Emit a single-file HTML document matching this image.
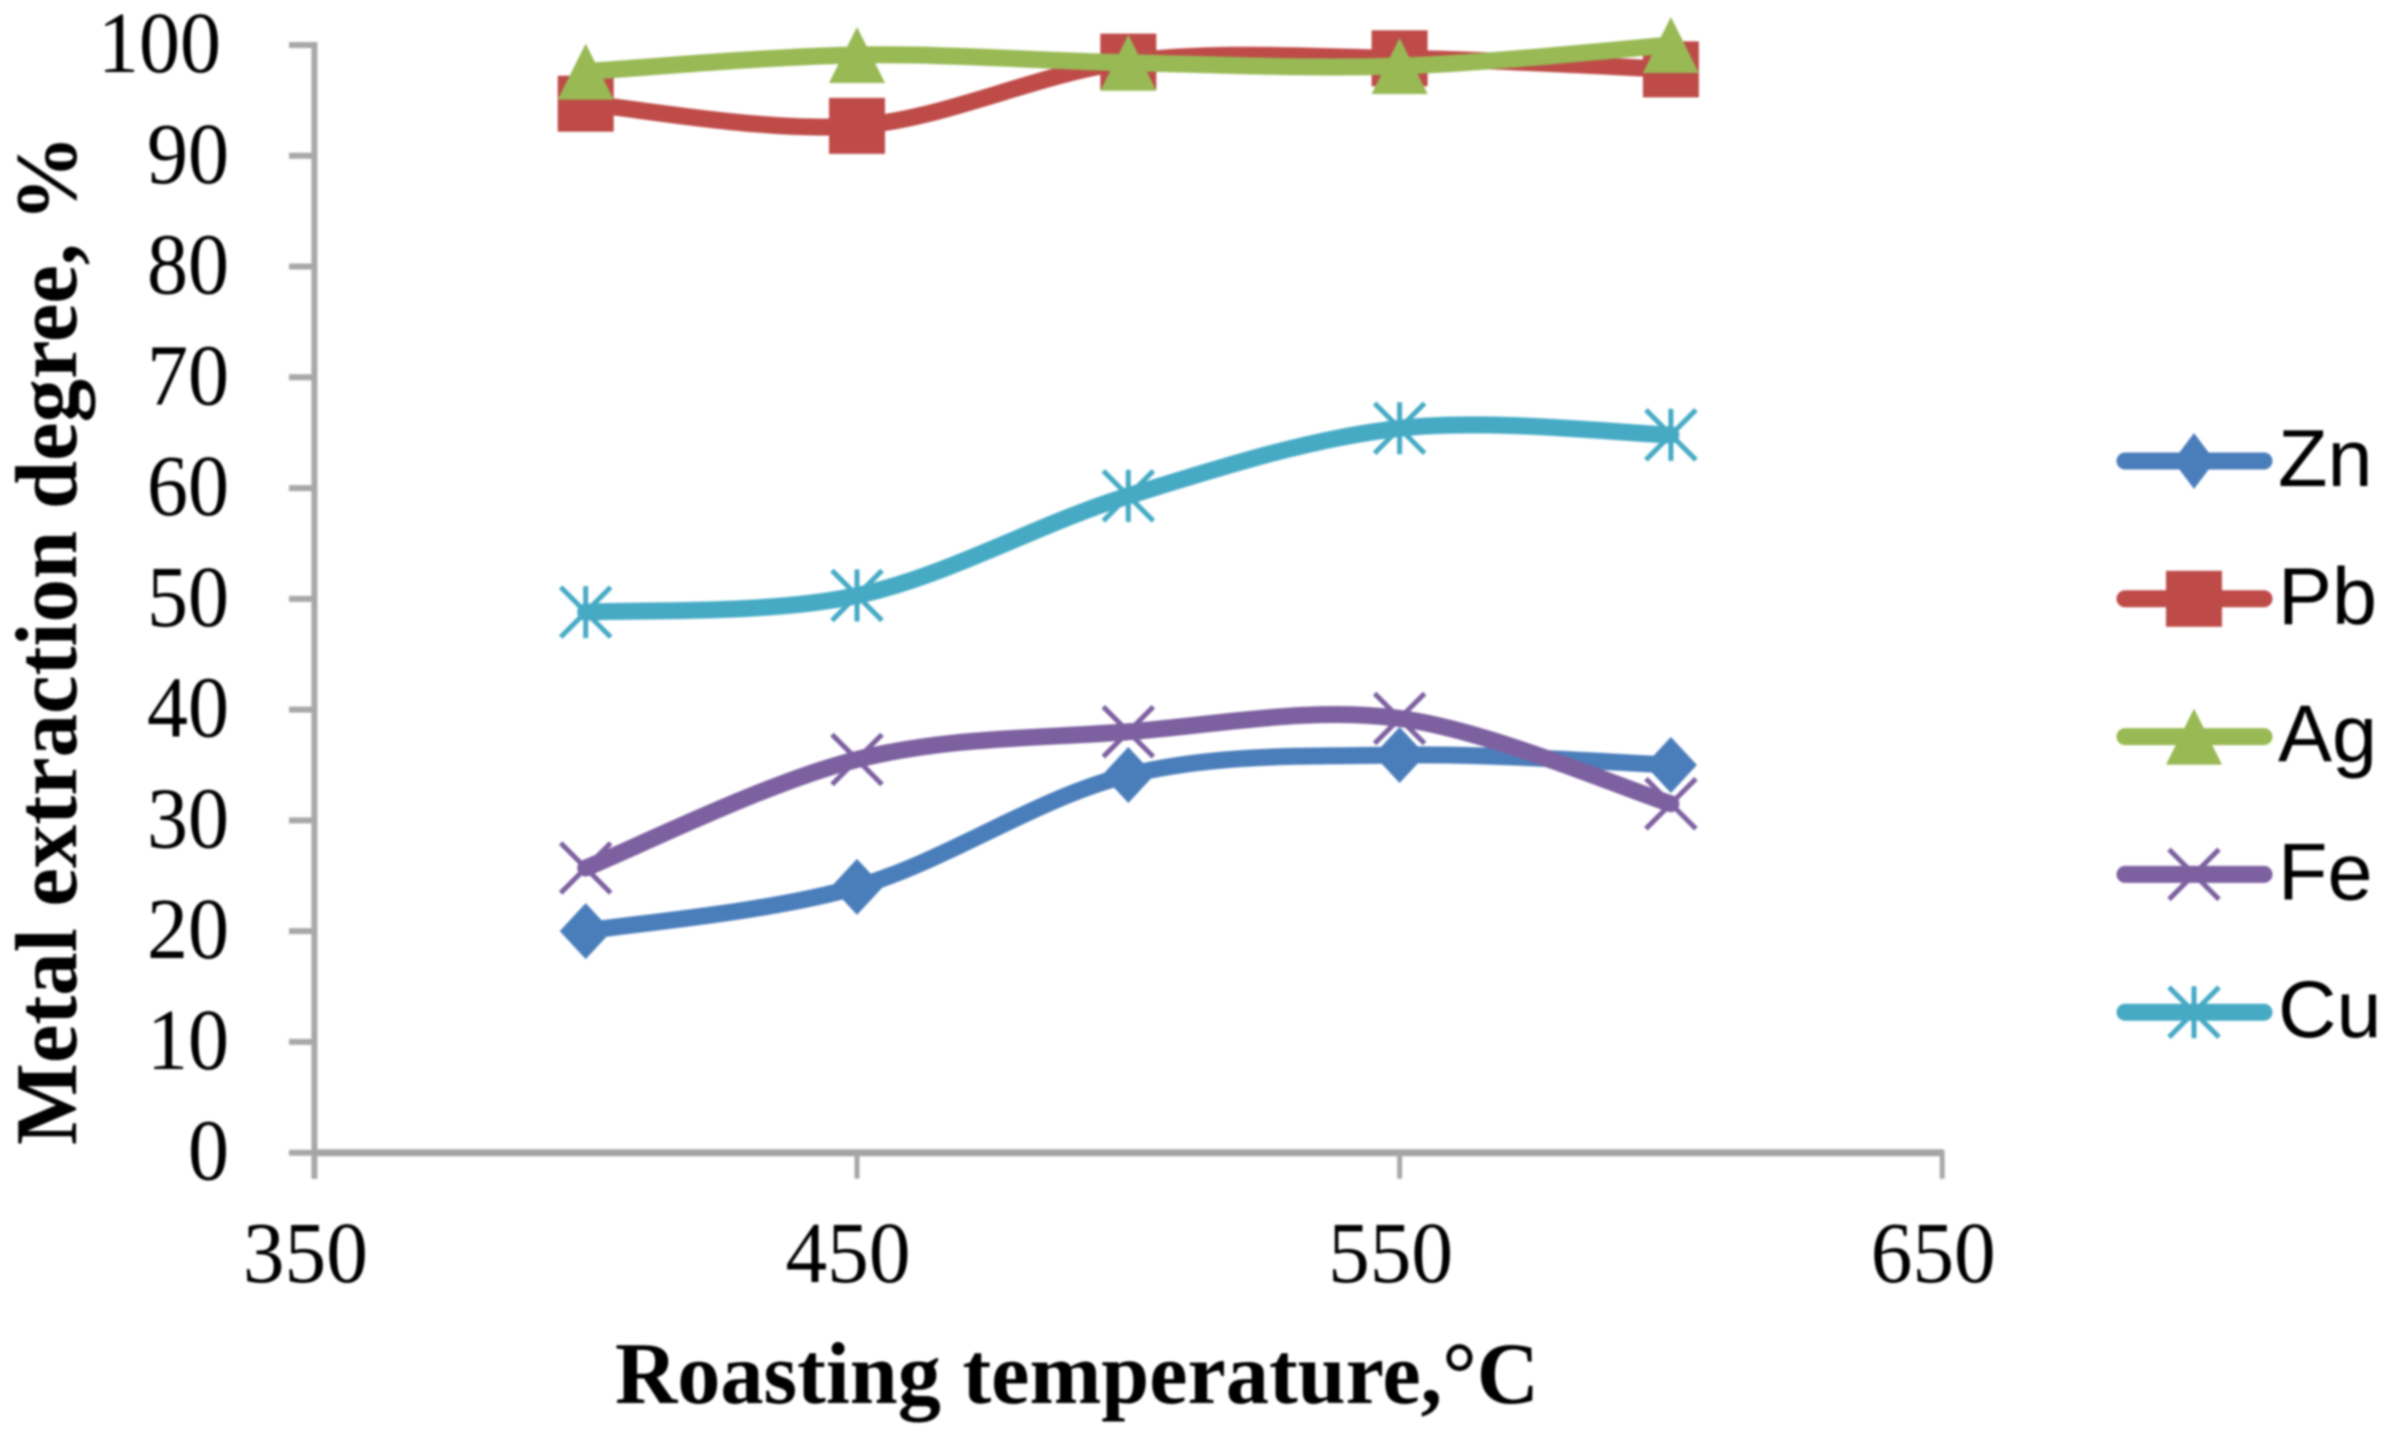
<!DOCTYPE html>
<html lang="en">
<head>
<meta charset="utf-8">
<title>Metal extraction degree vs roasting temperature</title>
<style>
html,body{margin:0;padding:0;background:#fff;width:2395px;height:1440px;overflow:hidden}
svg{display:block;filter:blur(1px)}
text{fill:#000}
.tick{font-family:"Liberation Serif",serif;font-size:87px}
.title{font-family:"Liberation Serif",serif;font-size:88px;font-weight:bold}
.legend{font-family:"Liberation Sans",sans-serif;font-size:81px}
</style>
</head>
<body>
<svg id="chart" xmlns="http://www.w3.org/2000/svg" width="2395" height="1440" viewBox="0 0 2395 1440">
  <text class="title" x="615" y="1403" textLength="924" lengthAdjust="spacingAndGlyphs">Roasting temperature,°C</text>
  <text class="title" transform="translate(76,1145) rotate(-90)" x="0" y="0" textLength="1010" lengthAdjust="spacingAndGlyphs">Metal extraction degree, %</text>
</svg>
<script>
const temperatures = [400, 450, 500, 550, 600];
const znValues = [20, 24, 34.1, 35.9, 35];
const pbValues = [94.7, 92.7, 98.5, 98.8, 97.8];
const agValues = [97.6, 99.1, 98.4, 98.1, 100];
const feValues = [25.7, 35.5, 38, 39.2, 31.5];
const cuValues = [48.8, 50.3, 59.3, 65.4, 64.8];
const xTickValues = [350, 450, 550, 650];
const yTickValues = [0, 10, 20, 30, 40, 50, 60, 70, 80, 90, 100];
const seriesNames = ['Zn', 'Pb', 'Ag', 'Fe', 'Cu'];
const seriesData = [znValues, pbValues, agValues, feValues, cuValues];
const seriesColors = ['#4A7EBB', '#BE4B48', '#98B954', '#7D60A0', '#46AAC5'];
const seriesMarkers = ['diamond', 'square', 'triangle', 'cross', 'star'];

const svg = document.getElementById('chart');
const NS = 'http://www.w3.org/2000/svg';
const AXIS_COLOR = '#A8A8A8';

function xScale(v) { return 314.4 + (v - 350) * 5.426; }
function yScale(v) { return 1152.7 - v * 11.077; }

function make(tag, attrs, parent) {
  const el = document.createElementNS(NS, tag);
  for (const k in attrs) el.setAttribute(k, attrs[k]);
  parent.appendChild(el);
  return el;
}

function smoothPath(pts) {
  let d = 'M' + pts[0][0] + ' ' + pts[0][1];
  for (let i = 0; i < pts.length - 1; i++) {
    const p0 = pts[Math.max(0, i - 1)];
    const p1 = pts[i];
    const p2 = pts[i + 1];
    const p3 = pts[Math.min(pts.length - 1, i + 2)];
    const c1x = p1[0] + (p2[0] - p0[0]) / 6;
    const c1y = p1[1] + (p2[1] - p0[1]) / 6;
    const c2x = p2[0] - (p3[0] - p1[0]) / 6;
    const c2y = p2[1] - (p3[1] - p1[1]) / 6;
    d += ' C' + c1x + ' ' + c1y + ' ' + c2x + ' ' + c2y + ' ' + p2[0] + ' ' + p2[1];
  }
  return d;
}

function drawMarker(kind, cx, cy, color, parent, dh) {
  const g = make('g', {}, parent);
  if (kind === 'diamond') {
    make('polygon', { points: (cx - dh) + ',' + cy + ' ' + cx + ',' + (cy - 28) + ' ' + (cx + dh) + ',' + cy + ' ' + cx + ',' + (cy + 28), fill: color }, g);
  } else if (kind === 'square') {
    make('rect', { x: cx - 28, y: cy - 28, width: 56, height: 56, fill: color }, g);
  } else if (kind === 'triangle') {
    make('polygon', { points: (cx - 28) + ',' + (cy + 28) + ' ' + cx + ',' + (cy - 28) + ' ' + (cx + 28) + ',' + (cy + 28), fill: color }, g);
  } else {
    const s = 25;
    make('path', { d: 'M' + (cx - s) + ' ' + (cy - s) + 'L' + (cx + s) + ' ' + (cy + s) + 'M' + (cx - s) + ' ' + (cy + s) + 'L' + (cx + s) + ' ' + (cy - s), stroke: color, 'stroke-width': 5, fill: 'none' }, g);
    if (kind === 'star') {
      make('path', { d: 'M' + cx + ' ' + (cy - 26) + 'L' + cx + ' ' + (cy + 26), stroke: color, 'stroke-width': 5, fill: 'none' }, g);
    }
  }
  return g;
}

const yAxis = make('line', { x1: xScale(350), x2: xScale(350), y1: yScale(100) - 3, y2: yScale(0) + 26, stroke: AXIS_COLOR, 'stroke-width': 6 }, svg);



const xAxis = make('line', { x1: xScale(350) - 3, x2: xScale(650) + 2, y1: yScale(0), y2: yScale(0), stroke: '#A4A4A4', 'stroke-width': 7 }, svg);



yTickValues.forEach(function (v) {
  const tick = make('line', { x1: 289, x2: xScale(350), y1: yScale(v), y2: yScale(v), stroke: AXIS_COLOR, 'stroke-width': 6 }, svg);
  
  
  const s = String(v);
  const label = make('text', { class: 'tick', x: v === 100 ? 221 : 229, y: yScale(v) + 27, 'text-anchor': 'end', textLength: s.length * 41, lengthAdjust: 'spacingAndGlyphs' }, svg);
  label.textContent = s;
  
  
});

xTickValues.forEach(function (v) {
  const tick = make('line', { x1: xScale(v), x2: xScale(v), y1: yScale(0), y2: yScale(0) + 26, stroke: AXIS_COLOR, 'stroke-width': 5 }, svg);
  
  
  const label = make('text', { class: 'tick', x: xScale(v) - 9, y: 1282, 'text-anchor': 'middle', textLength: 125, lengthAdjust: 'spacingAndGlyphs' }, svg);
  label.textContent = String(v);
  
  
});

seriesNames.forEach(function (name, i) {
  const key = name.toLowerCase();
  const color = seriesColors[i];
  const group = make('g', {}, svg);
  
  
  const pts = seriesData[i].map(function (v, j) { return [xScale(temperatures[j]), yScale(v)]; });
  const line = make('path', { d: smoothPath(pts), fill: 'none', stroke: color, 'stroke-width': 17, 'stroke-linecap': 'round', 'stroke-linejoin': 'round' }, group);
  
  
  pts.forEach(function (p, j) {
    const m = drawMarker(seriesMarkers[i], p[0], p[1], color, group, 26);
    
    
  });

  const ly = 461 + i * 137.8;
  const entry = make('g', {}, svg);
  
  
  make('line', { x1: 2125, x2: 2264, y1: ly, y2: ly, stroke: color, 'stroke-width': 17, 'stroke-linecap': 'round' }, entry);
  drawMarker(seriesMarkers[i], 2194, ly, color, entry, 21);
  const lt = make('text', { class: 'legend', x: 2278, y: ly + 25 }, entry);
  lt.textContent = name;
  
  
});
</script>
</body>
</html>
